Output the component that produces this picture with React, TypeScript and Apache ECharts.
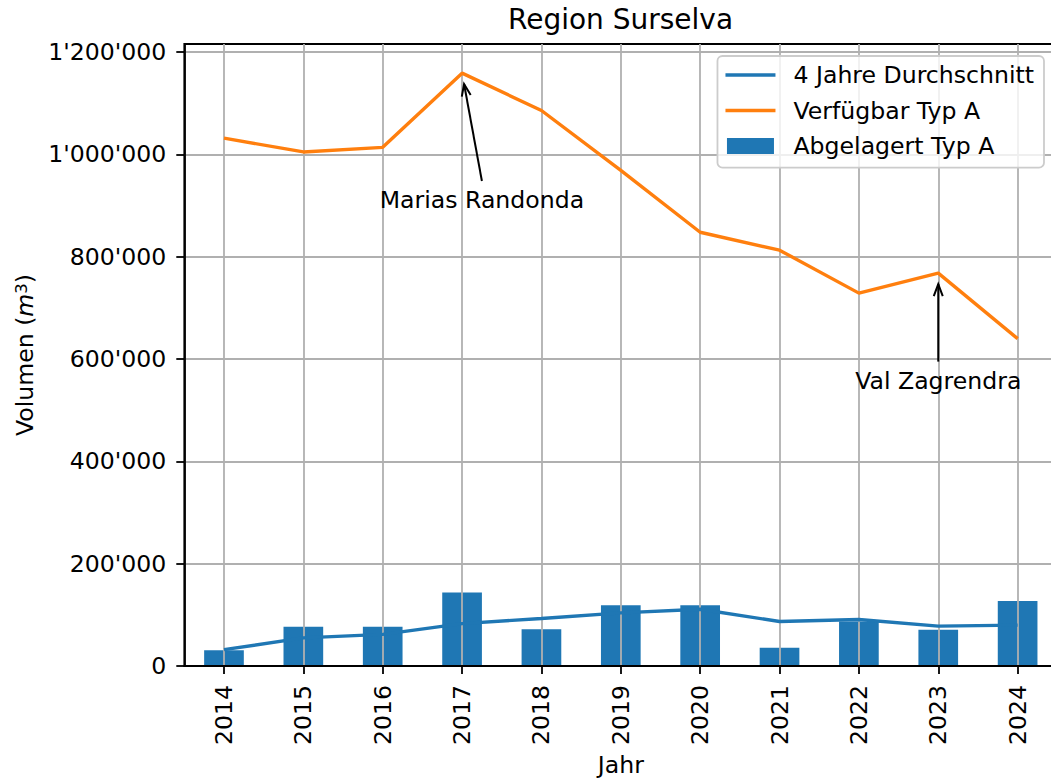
import React, { useEffect, useRef } from 'react';
import * as echarts from 'echarts';

const years = ['2014', '2015', '2016', '2017', '2018', '2019', '2020', '2021', '2022', '2023', '2024'];
const abgelagert = [31000, 77000, 77000, 144000, 72000, 119000, 119000, 36000, 87000, 71000, 127000];
const durchschnitt = [32000, 55000, 62000, 83000, 93000, 104000, 111000, 87000, 91000, 78000, 80000];
const verfuegbar = [1032000, 1005000, 1014000, 1159000, 1086000, 969000, 848000, 813000, 729000, 768000, 640000];
const yTicks = [0, 200000, 400000, 600000, 800000, 1000000, 1200000];

const annotationLabels = ['Marias Randonda', 'Val Zagrendra'];
const annotationPointIndex = [3, 9];
const annotationTextIndex = [3.25, 9];
const annotationTextValue = [911000, 558000];

const FONT = 'DejaVu Sans';
const FS = 23.6;
const BLUE = '#1f77b4';
const ORANGE = '#ff7f0e';
const W = 1075;

const fmt = (v: number) => String(Math.round(v)).replace(/\B(?=(\d{3})+(?!\d))/g, "'");
const lineIcon = 'path://M0,0 L50,0 L50,3.4 L0,3.4 Z';
const barIcon = 'path://M0,0 L47,0 L47,16 L0,16 Z';

export default function App() {
  const ref = useRef<HTMLDivElement>(null);
  useEffect(() => {
    if (!ref.current) return;
    const chart = echarts.init(ref.current, undefined, { renderer: 'svg' });
    const axisLine = { show: true, lineStyle: { color: '#000', width: 1.8 } };
    const tick = { show: true, length: 8, lineStyle: { color: '#000', width: 1.8 } };
    const grid = { show: true, lineStyle: { color: '#b0b0b0', width: 1.8 } };
    const option: any = {
      animation: false,
      textStyle: { fontFamily: FONT },
      title: {
        text: 'Region Surselva',
        left: 620.5,
        textAlign: 'center',
        top: 5,
        padding: 0,
        textStyle: { fontSize: 28, fontWeight: 'normal', color: '#000', fontFamily: FONT },
      },
      grid: {
        left: 184.3,
        top: 44,
        width: 873,
        height: 624.5,
        show: true,
        borderColor: '#000',
        borderWidth: 1.8,
        backgroundColor: 'transparent',
      },
      legend: {
        orient: 'vertical',
        right: W - 1044,
        top: 56,
        data: [
          { name: '4 Jahre Durchschnitt', icon: lineIcon },
          { name: 'Verfügbar Typ A', icon: lineIcon },
          { name: 'Abgelagert Typ A', icon: barIcon },
        ],
        itemWidth: 50,
        itemHeight: 16,
        itemGap: 11.5,
        padding: [7, 10, 9.7, 8],
        backgroundColor: 'rgba(255,255,255,0.8)',
        borderColor: '#cccccc',
        borderWidth: 1.8,
        borderRadius: 5,
        textStyle: { fontSize: FS, color: '#000', fontFamily: FONT, lineHeight: 24, padding: [0, 0, 0, 13] },
      },
      xAxis: {
        type: 'category',
        data: years,
        boundaryGap: true,
        axisLine,
        axisTick: { ...tick, alignWithLabel: true, interval: 0 },
        axisLabel: { rotate: 90, fontSize: FS, color: '#000', margin: 19, interval: 0, fontFamily: FONT },
        splitLine: { ...grid, alignWithLabel: true, interval: 0 },
        name: 'Jahr',
        nameLocation: 'middle',
        nameGap: 84,
        nameTextStyle: { fontSize: FS, color: '#000', fontFamily: FONT },
      },
      yAxis: {
        type: 'value',
        min: 0,
        max: 1216000,
        interval: 200000,
        axisLine,
        axisTick: { ...tick, customValues: yTicks },
        axisLabel: {
          customValues: yTicks,
          formatter: (v: number) => fmt(v),
          fontSize: FS,
          color: '#000',
          margin: 18,
          fontFamily: FONT,
        },
        splitLine: grid,
        name: '{n|Volumen (}{i|m}{s|3}{n|)}',
        nameLocation: 'middle',
        nameGap: 146,
        nameTextStyle: {
          rich: {
            n: { fontSize: FS, color: '#000', fontFamily: FONT },
            i: { fontSize: FS, color: '#000', fontFamily: FONT, fontStyle: 'italic' },
            s: { fontSize: 16.5, color: '#000', fontFamily: FONT, verticalAlign: 'top' },
          },
        },
      },
      series: [
        {
          name: 'Abgelagert Typ A',
          type: 'bar',
          data: abgelagert,
          barWidth: '50%',
          itemStyle: { color: BLUE },
          z: -1,
        },
        {
          name: '4 Jahre Durchschnitt',
          type: 'line',
          data: durchschnitt,
          symbol: 'none',
          lineStyle: { color: BLUE, width: 3.4 },
          itemStyle: { color: BLUE },
          z: 3,
        },
        {
          name: 'Verfügbar Typ A',
          type: 'line',
          data: verfuegbar,
          symbol: 'none',
          lineStyle: { color: ORANGE, width: 3.4 },
          itemStyle: { color: ORANGE },
          z: 4,
        },
      ],
    };
    chart.setOption(option);

    const toPx = (i: number, v: number) =>
      chart.convertToPixel({ xAxisIndex: 0, yAxisIndex: 0 }, [i, v]) as number[];
    const x0 = toPx(0, 0)[0];
    const step = toPx(1, 0)[0] - x0;
    const graphics: any[] = [];
    annotationLabels.forEach((label, k) => {
      const pi = annotationPointIndex[k];
      const [px, py] = toPx(pi, verfuegbar[pi]);
      const tx = x0 + annotationTextIndex[k] * step;
      const ty = toPx(0, annotationTextValue[k])[1];
      const sx = tx;
      const sy = ty - 19;
      const dx = px - sx;
      const dy = py - sy;
      const len = Math.sqrt(dx * dx + dy * dy);
      const ux = dx / len;
      const uy = dy / len;
      const tipX = px - ux * 11;
      const tipY = py - uy * 11;
      const hl = 12;
      const hw = 4.5;
      const bx = tipX - ux * hl;
      const by = tipY - uy * hl;
      const nx = -uy;
      const ny = ux;
      graphics.push(
        {
          type: 'line',
          z: 100,
          shape: { x1: sx, y1: sy, x2: tipX, y2: tipY },
          style: { stroke: '#000', lineWidth: 2 },
        },
        {
          type: 'polyline',
          z: 100,
          shape: { points: [[bx + nx * hw, by + ny * hw], [tipX, tipY], [bx - nx * hw, by - ny * hw]] },
          style: { stroke: '#000', lineWidth: 2, fill: 'none' },
        },
        {
          type: 'text',
          z: 100,
          x: tx,
          y: ty,
          style: {
            text: label,
            fontSize: FS,
            fontFamily: FONT,
            fill: '#000',
            align: 'center',
            verticalAlign: 'middle',
          },
        }
      );
    });
    chart.setOption({ graphic: graphics });

    return () => chart.dispose();
  }, []);
  return (
    <div
      style={{ position: 'fixed', left: 0, top: 0, width: 1051, height: 782, overflow: 'hidden', background: '#fff' }}
    >
      <div ref={ref} style={{ width: W, height: 782 }} />
    </div>
  );
}
